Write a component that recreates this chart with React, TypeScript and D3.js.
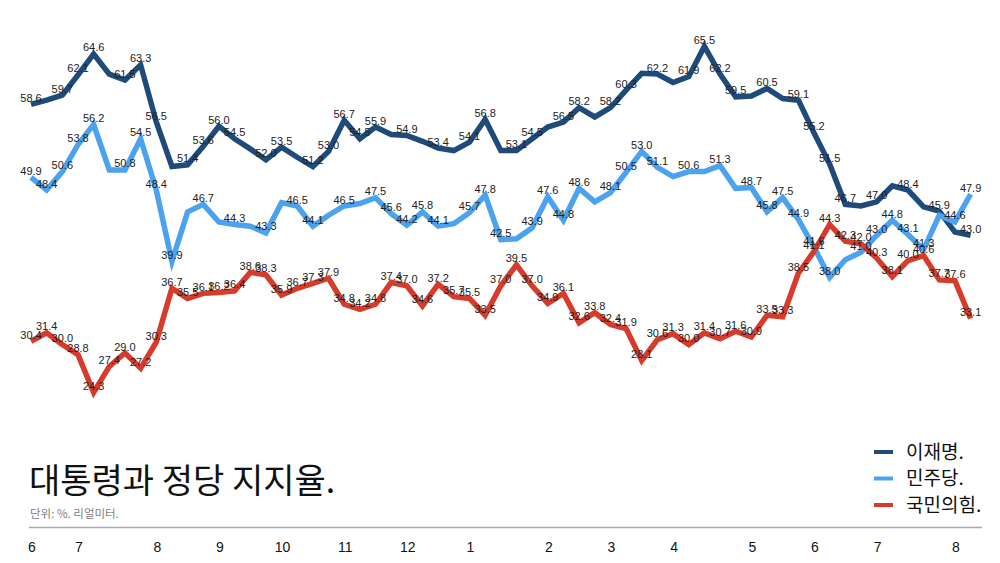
import React from "react";
import * as d3 from "d3";

const leeValues = [
  58.6, 59.1, 59.7, 62.1, 64.6, 62.2, 61.5, 63.3, 56.5, 51.2,
  51.4, 53.6, 56.0, 54.5, 53.3, 52.0, 53.5, 52.3, 51.2, 53.0,
  56.7, 54.5, 55.9, 55.0, 54.9, 54.2, 53.4, 53.1, 54.1, 56.8,
  53.1, 53.1, 54.5, 55.9, 56.5, 58.2, 57.1, 58.2, 60.3, 62.3,
  62.2, 61.2, 61.9, 65.5, 62.2, 59.5, 59.6, 60.5, 59.3, 59.1,
  55.2, 51.5, 46.7, 46.5, 47.0, 48.9, 48.4, 46.4, 45.9, 43.4,
  43.0,
];
const leeHidden = [1, 5, 9, 14, 17, 23, 25, 27, 30, 33, 36, 39, 41, 46, 48, 53, 55, 57, 59];

const demValues = [
  49.9, 48.4, 50.6, 53.8, 56.2, 50.8, 50.8, 54.5, 48.4, 39.9,
  45.8, 46.7, 44.6, 44.3, 44.1, 43.3, 46.9, 46.5, 44.1, 45.4,
  46.5, 46.8, 47.5, 45.6, 44.2, 45.8, 44.1, 44.4, 45.7, 47.8,
  42.5, 42.6, 43.9, 47.6, 44.8, 48.6, 47.0, 48.1, 50.5, 53.0,
  51.1, 50.0, 50.6, 50.6, 51.3, 48.6, 48.7, 45.8, 47.5, 44.9,
  41.6, 38.0, 40.1, 41.0, 43.0, 44.8, 43.1, 41.3, 45.4, 44.6,
  47.9,
];
const demHidden = [5, 10, 12, 14, 16, 19, 21, 27, 31, 36, 41, 43, 45, 52, 58];

const pppValues = [
  30.4, 31.4, 30.0, 28.8, 24.3, 27.4, 29.0, 27.2, 30.3, 36.7,
  35.5, 36.1, 36.2, 36.4, 38.6, 38.3, 35.9, 36.7, 37.3, 37.9,
  34.8, 34.2, 34.8, 37.4, 37.0, 34.6, 37.2, 35.7, 35.5, 33.5,
  37.0, 39.5, 37.0, 34.9, 36.1, 32.6, 33.8, 32.4, 31.9, 28.1,
  30.6, 31.3, 30.0, 31.4, 30.7, 31.6, 30.9, 33.5, 33.3, 38.5,
  41.1, 44.3, 42.3, 42.0, 40.3, 38.1, 40.0, 40.6, 37.7, 37.6,
  33.1,
];
const pppHidden: number[] = [];

const monthLabels = ["6", "7", "8", "9", "10", "11", "12", "1", "2", "3", "4", "5", "6", "7", "8"];
const monthWeekIndex = [0, 3, 8, 12, 16, 20, 24, 28, 33, 37, 41, 46, 50, 54, 59];

const seriesNames = ["이재명.", "민주당.", "국민의힘."];
const titleText = "대통령과 정당 지지율.";
const subtitleText = "단위: %. 리얼미터.";

const COLORS = ["#1f4b7b", "#4ba2ee", "#d63b2b"];
const W = 1000;
const H = 563;
const LATIN = "Helvetica, 'Liberation Sans', Arial, sans-serif";
const KOR = "'Noto Sans CJK KR', 'Noto Sans', sans-serif";

export default function App() {
  const x = d3.scaleLinear().domain([0, leeValues.length - 1]).range([31, 970.6]);
  const y = d3.scaleLinear().domain([20, 70]).range([428.6, 8.6]);
  const line = d3
    .line<number>()
    .x((_, i) => x(i))
    .y((v) => y(v));

  const series = [
    { values: leeValues, hidden: leeHidden, color: COLORS[0] },
    { values: demValues, hidden: demHidden, color: COLORS[1] },
    { values: pppValues, hidden: pppHidden, color: COLORS[2] },
  ];

  return (
    <svg
      width={W}
      height={H}
      viewBox={`0 0 ${W} ${H}`}
      style={{ position: "absolute", left: 0, top: 0, background: "#fff" }}
    >
      <rect x={0} y={0} width={W} height={H} fill="#fff" />
      {series.map((s, si) => (
        <path
          key={"l" + si}
          d={line(s.values) || ""}
          fill="none"
          stroke={s.color}
          strokeWidth={5.5}
          strokeLinejoin="miter"
          strokeMiterlimit={4}
        />
      ))}
      {series.map((s, si) => (
        <g key={"t" + si}>
          {s.values.map((v, i) =>
            s.hidden.includes(i) ? null : (
              <text
                key={i}
                x={x(i)}
                y={y(v) - 2.5}
                textAnchor="middle"
                fontFamily={LATIN}
                fontSize={11}
                fill="#222"
              >
                {v.toFixed(1)}
              </text>
            )
          )}
        </g>
      ))}

      {/* title */}
      <text x={29} y={493} fontFamily={KOR} fontSize={34} fontWeight={400} fill="#111">
        {titleText}
      </text>
      <text x={30} y={518} fontFamily={KOR} fontSize={11.5} fill="#808080">
        {subtitleText}
      </text>

      {/* legend */}
      {seriesNames.map((name, i) => (
        <g key={"lg" + i} transform={`translate(874, ${452 + i * 26.5})`}>
          <line x1={0} x2={19} y1={0} y2={0} stroke={COLORS[i]} strokeWidth={4} />
          <text x={32} y={0} dy="0.36em" fontFamily={KOR} fontSize={19} fill="#111">
            {name}
          </text>
        </g>
      ))}

      {/* rule */}
      <line x1={29} x2={982} y1={527.5} y2={527.5} stroke="#aaa" strokeWidth={1.5} />

      {/* months */}
      {monthLabels.map((m, i) => (
        <text
          key={"m" + i}
          x={x(monthWeekIndex[i]) + 1}
          y={552}
          textAnchor="middle"
          fontFamily={LATIN}
          fontSize={14}
          fill="#111"
        >
          {m}
        </text>
      ))}
    </svg>
  );
}
